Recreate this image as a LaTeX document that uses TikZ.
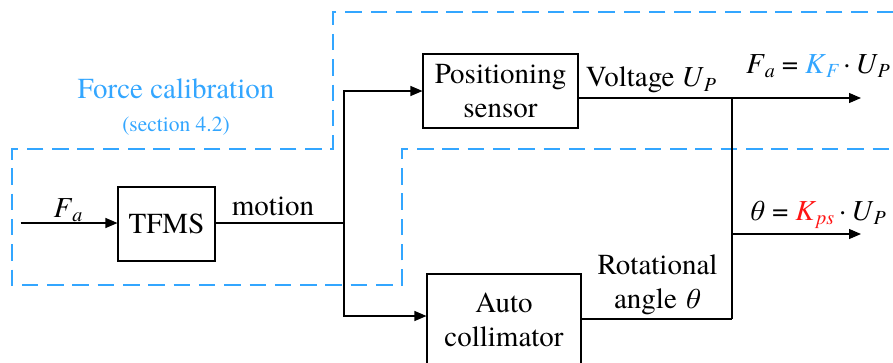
\documentclass[tikz,border=0pt]{standalone}
\usepackage{fontspec}
\setmainfont{texgyretermes}[Extension=.otf,UprightFont=*-regular,ItalicFont=*-italic,BoldFont=*-bold,BoldItalicFont=*-bolditalic]
\usetikzlibrary{arrows.meta}
\definecolor{calblue}{RGB}{51,166,255}
\definecolor{kred}{RGB}{255,20,20}
\newcommand{\mysb}[1]{\raisebox{-0.35ex}{\fontsize{20}{20}\selectfont\itshape #1}}
\newcommand{\eqsp}{\hspace{7pt}}
\begin{document}
\begin{tikzpicture}[x=1pt,y=-1pt,
  blockbox/.style={draw,line width=1.1pt,minimum width=#1,inner sep=0pt,align=center,font=\fontsize{29}{34}\selectfont},
  wire/.style={line width=1.1pt},
  arr/.style={wire,-{Triangle[length=12pt,width=10pt]}},
  lbl/.style={font=\fontsize{29}{34}\selectfont,inner sep=0pt,align=center},
  calzone/.style={draw=calblue,line width=2pt,dash pattern=on 16.5pt off 8.8pt}]
\useasboundingbox (0,0) rectangle (893,362);
\clip (0,0) rectangle (893,362);
% blue zone
\draw[calzone] (893,12) -- (333,12) -- (333,149) -- (12,149) -- (12,285) -- (402,285) -- (402,149) -- (893,149);
\node[lbl,text=calblue] (fc) at (176,89) {Force calibration};
\node[lbl,text=calblue,font=\fontsize{21.5}{24}\selectfont] (sec) at (176,126) {(section 4.2)};
% blocks
\node[blockbox=97pt,minimum height=74pt] (tfms) at (166.5,224) {TFMS};
\node[blockbox=155pt,minimum height=74pt] (pos) at (500.5,91) {Positioning\\sensor};
\node[blockbox=154pt,minimum height=110pt,text depth=0pt] (auto) at (504,329) {};
\node[lbl] (autot) at (504,320) {Auto\\collimator};
% coordinates
\coordinate (in0) at (20.7,223);
\coordinate (j1) at (344,223);
\coordinate (j2) at (732,98);
\coordinate (j3) at (732,234);
\coordinate (j4) at (732,319);
\coordinate (o1) at (861,98);
\coordinate (o2) at (861,234);
% wires
\draw[arr] (in0) -- (tfms.west|-in0);
\draw[wire] (tfms.east|-j1) -- (j1);
\draw[arr] (j1) |- (pos.west);
\draw[arr] (j1) |- (auto.west|-0,316);
\draw[wire] (pos.east|-j2) -- (j2);
\draw[arr] (j2) -- (o1);
\draw[wire] (j2) -- (j4);
\draw[wire] (auto.east|-j4) -- (j4);
\draw[arr] (j3) -- (o2);
% labels
\node[lbl] (fa) at (68,210) {\textit{F}\mysb{a}};
\node[lbl] (mo) at (273,206) {motion};
\node[lbl] (volt) at (651,80) {Voltage \textit{U}\mysb{P}};
\node[lbl] (eq1) at (818,66) {\textit{F}\mysb{a}\eqsp=\eqsp\textcolor{calblue}{\textit{K}\mysb{F}}\hspace{5pt}·\hspace{5pt}\textit{U}\mysb{P}};
\node[lbl] (eq2) at (817,215) {\textit{θ}\eqsp=\eqsp\textcolor{kred}{\textit{K}\mysb{ps}}\hspace{5pt}·\hspace{5pt}\textit{U}\mysb{P}};
\node[lbl] (rot) at (657.5,285) {Rotational\\angle \textit{θ}};
\end{tikzpicture}
\end{document}
